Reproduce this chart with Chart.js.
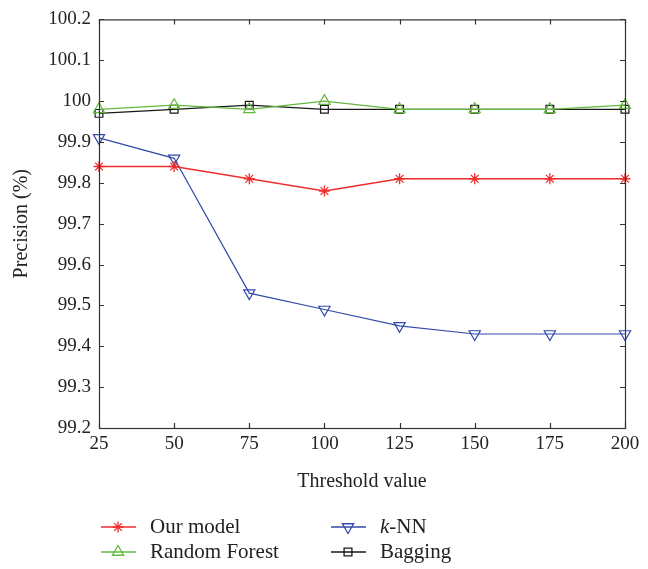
<!DOCTYPE html>
<html>
<head>
<meta charset="utf-8">
<script src="https://cdn.jsdelivr.net/npm/chart.js@4.4.0/dist/chart.umd.min.js"></script>
<style>
  html, body { margin: 0; padding: 0; background: #fff; }
  #wrap { width: 648px; height: 569px; }
</style>
</head>
<body>
<div id="wrap"><canvas id="precisionChart"></canvas></div>
<script>
const thresholds = ['25', '50', '75', '100', '125', '150', '175', '200'];
const ourModel = [99.84, 99.84, 99.81, 99.78, 99.81, 99.81, 99.81, 99.81];
const randomForest = [99.98, 99.99, 99.98, 100.0, 99.98, 99.98, 99.98, 99.99];
const knn = [99.91, 99.86, 99.53, 99.49, 99.45, 99.43, 99.43, 99.43];
const bagging = [99.97, 99.98, 99.99, 99.98, 99.98, 99.98, 99.98, 99.98];

const FONT = "'Liberation Serif', 'DejaVu Serif', serif";
const AXIS_COLOR = '#333';
const TEXT_COLOR = '#222';

// inward ticks on all four sides + full box, like the matlab figure
const boxTicks = {
  id: 'boxTicks',
  afterDraw(chart) {
    const { ctx, chartArea: a, scales } = chart;
    ctx.save();
    ctx.strokeStyle = AXIS_COLOR;
    ctx.lineWidth = 1.2;
    ctx.strokeRect(a.left + 0.5, a.top + 0.5, a.right - a.left, a.bottom - a.top);
    const len = 5;
    ctx.beginPath();
    scales.x.ticks.forEach((t, i) => {
      const px = Math.round(scales.x.getPixelForTick(i)) + 0.5;
      ctx.moveTo(px, a.bottom); ctx.lineTo(px, a.bottom - len);
      ctx.moveTo(px, a.top); ctx.lineTo(px, a.top + len);
    });
    scales.y.ticks.forEach(t => {
      const py = Math.round(scales.y.getPixelForValue(t.value)) + 0.5;
      ctx.moveTo(a.left, py); ctx.lineTo(a.left + len, py);
      ctx.moveTo(a.right, py); ctx.lineTo(a.right - len, py);
    });
    ctx.stroke();
    ctx.restore();
  }
};

// two-column legend under the axis title
const bottomLegend = {
  id: 'bottomLegend',
  afterDraw(chart) {
    const { ctx } = chart;
    const spots = [
      { x: 101, y: 527 }, { x: 101, y: 552 },
      { x: 331, y: 527 }, { x: 331, y: 552 }
    ];
    ctx.save();
    chart.data.datasets.forEach((ds, k) => {
      const s = spots[k];
      ctx.strokeStyle = ds.borderColor;
      ctx.fillStyle = 'rgba(0,0,0,0)';
      ctx.lineWidth = 1.3;
      ctx.beginPath();
      ctx.moveTo(s.x, s.y); ctx.lineTo(s.x + 35, s.y);
      ctx.stroke();
      Chart.helpers.drawPoint(ctx, {
        pointStyle: ds.pointStyle,
        radius: ds.pointRadius,
        rotation: ds.pointRotation || 0,
        borderWidth: 1.2
      }, s.x + 17, s.y);
      ctx.fillStyle = TEXT_COLOR;
      ctx.textBaseline = 'middle';
      const tx = s.x + 49;
      if (ds.label === 'k-NN') {
        ctx.font = 'italic 21px ' + FONT;
        ctx.fillText('k', tx, s.y);
        const w = ctx.measureText('k').width;
        ctx.font = '21px ' + FONT;
        ctx.fillText('-NN', tx + w, s.y);
      } else {
        ctx.font = '21px ' + FONT;
        ctx.fillText(ds.label, tx, s.y);
      }
    });
    ctx.restore();
  }
};

const ctx = document.getElementById('precisionChart').getContext('2d');
const precisionChart = new Chart(ctx, {
  type: 'line',
  data: {
    labels: thresholds,
    datasets: [{
      label: 'Our model',
      data: ourModel,
      borderColor: 'rgb(240, 45, 45)',
      backgroundColor: 'rgb(240, 45, 45)',
      pointStyle: 'star',
      pointRadius: 5.5,
      borderWidth: 1.3
    }, {
      label: 'Random Forest',
      data: randomForest,
      borderColor: 'rgb(100, 185, 60)',
      backgroundColor: 'rgba(0,0,0,0)',
      pointStyle: 'triangle',
      pointRadius: 6.5,
      borderWidth: 1.2
    }, {
      label: 'k-NN',
      data: knn,
      borderColor: 'rgb(50, 75, 170)',
      backgroundColor: 'rgba(0,0,0,0)',
      pointStyle: 'triangle',
      pointRotation: 180,
      pointRadius: 6.5,
      borderWidth: 1.2
    }, {
      label: 'Bagging',
      data: bagging,
      borderColor: 'rgb(25, 25, 25)',
      backgroundColor: 'rgba(0,0,0,0)',
      pointStyle: 'rect',
      pointRadius: 5.5,
      borderWidth: 1.2
    }]
  },
  options: {
    responsive: true,
    maintainAspectRatio: false,
    animation: false,
    layout: { padding: { left: 0, top: 14, right: 23, bottom: 71 } },
    plugins: {
      legend: { display: false },
      tooltip: { enabled: false }
    },
    elements: { line: { tension: 0 } },
    scales: {
      x: {
        offset: false,
        grid: { display: false, drawTicks: false },
        border: { display: false },
        ticks: { color: TEXT_COLOR, font: { family: FONT, size: 19 }, padding: 5, maxRotation: 0 },
        title: { display: true, text: 'Threshold value', color: TEXT_COLOR, font: { family: FONT, size: 20 }, padding: { top: 4, bottom: 4 } },
        afterFit: s => { s.height = 569 - 428 - 71; }
      },
      y: {
        min: 99.2,
        max: 100.2,
        grid: { display: false, drawTicks: false },
        border: { display: false },
        ticks: {
          stepSize: 0.1,
          color: TEXT_COLOR,
          padding: 8,
          font: { family: FONT, size: 19 },
          callback: v => parseFloat(v.toFixed(1)).toString()
        },
        title: { display: true, text: 'Precision (%)', color: TEXT_COLOR, font: { family: FONT, size: 20 }, padding: { top: 10, bottom: 4 } },
        afterFit: s => { s.width = 99; }
      }
    }
  },
  plugins: [boxTicks, bottomLegend]
});
</script>
</body>
</html>
